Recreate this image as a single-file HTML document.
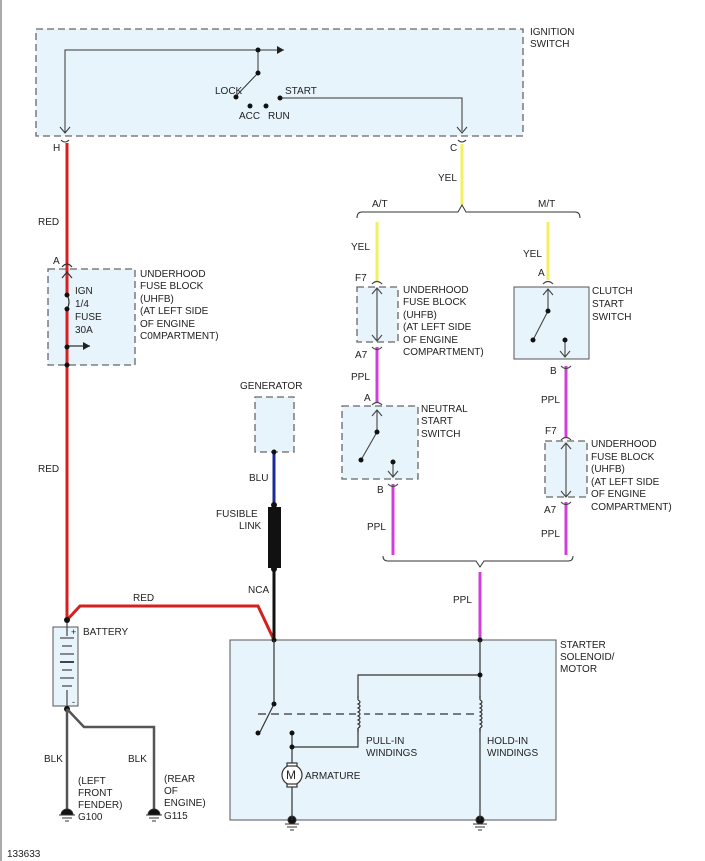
<!DOCTYPE html>
<html><head><meta charset="utf-8"><style>
html,body{margin:0;padding:0;background:#fff;}
svg{display:block;}
text{font-family:"Liberation Sans",Arial,sans-serif;font-size:10px;fill:#222;}
</style></head><body>
<svg width="705" height="861" viewBox="0 0 705 861" xmlns="http://www.w3.org/2000/svg">
<defs>
<marker id="ar" markerWidth="8" markerHeight="8" refX="7" refY="4" orient="auto" markerUnits="userSpaceOnUse"><path d="M0,0 L7,4 L0,8 z" fill="#222"/></marker>
</defs>
<line x1="1" y1="0" x2="1" y2="861" stroke="#aaa" stroke-width="2"/>
<g fill="#e8f4fc" stroke="#666" stroke-width="1.3" stroke-dasharray="7,4">
<rect x="36" y="29" width="487" height="107"/>
<rect x="48" y="269" width="87" height="96"/>
<rect x="357" y="287" width="41" height="55"/>
<rect x="342" y="406" width="76" height="73"/>
<rect x="545" y="441" width="42" height="56"/>
<rect x="255" y="397" width="39" height="55"/>
</g>
<rect x="514" y="287" width="75" height="72" fill="#e8f4fc" stroke="#555" stroke-width="1"/>
<rect x="230" y="640" width="326" height="180" fill="#e8f4fc" stroke="#555" stroke-width="1"/>
<rect x="53" y="627" width="25" height="79" fill="#e8f4fc" stroke="#555" stroke-width="1"/>

<g fill="none" stroke-width="3">
<path d="M67,143 V618" stroke="#d42020"/>
<path d="M67,620 L80,606 H258 L274,640" stroke="#d42020"/>
<path d="M462,144 V205" stroke="#f0f060"/>
<path d="M377,222 V282" stroke="#f0f060"/>
<path d="M548,222 V280" stroke="#f0f060"/>
<path d="M377,347 V402 M393,484 V555 M566,366 V438 M566,502 V555 M480,572 V640" stroke="#d040d8"/>
<path d="M274,452 V505" stroke="#1a2a9a"/>
<path d="M274,568 V640" stroke="#111"/>
</g>
<rect x="268" y="507" width="13" height="61" fill="#111"/>
<g fill="#111"><circle cx="274" cy="452" r="2.5"/><circle cx="274" cy="505" r="3"/><circle cx="274" cy="569" r="3"/><circle cx="274" cy="640" r="2.5"/><circle cx="480" cy="640" r="2.5"/></g>

<g stroke="#333" stroke-width="1" fill="none">
<path d="M65,132 V50 H284" marker-end="url(#ar)"/>
<path d="M258,50 V73 L236,96"/>
<path d="M280,98 H462 V131"/>
<path d="M60,127 L65,133 L70,127 M457,127 L462,133 L467,127"/>
<path d="M61,140 Q65,144 69,140 M458,140 Q462,144 466,140"/>
<path d="M357,218 Q357,212 362,212 H458 L462,205 L466,212 H575 Q580,212 580,218"/>
<path d="M383,556 Q383,561 388,561 H476 L480,567 L484,561 H568 Q573,561 573,556"/>
</g>
<g fill="#111"><circle cx="258" cy="50" r="2.5"/><circle cx="258" cy="73" r="2.5"/><circle cx="236" cy="97" r="2.5"/><circle cx="250" cy="106" r="2.5"/><circle cx="266" cy="106" r="2.5"/><circle cx="280" cy="98" r="2.5"/></g>

<g stroke="#333" stroke-width="1.2" fill="none">
<path d="M62,267 Q67,261 72,267"/>
<path d="M62,278 L67,272 L72,278"/>
<path d="M67,346 H90" marker-end="url(#ar)"/>
</g>
<rect x="63" y="295" width="8" height="14" fill="#e8f4fc"/>
<path d="M67,295 Q71,302 67,309" stroke="#333" fill="none" stroke-width="1.2"/>
<g fill="#111"><circle cx="67" cy="295" r="2.5"/><circle cx="67" cy="309" r="2.5"/><circle cx="67" cy="347" r="2.5"/><circle cx="67" cy="365" r="2.5"/></g>

<g stroke="#444" stroke-width="1.1" fill="none">
<path d="M372,284 Q377,279 382,284 M372,347 Q377,352 382,347"/>
<path d="M377,288 V341 M372,294 L377,288 L382,294 M372,335 L377,341 L382,335"/>
<path d="M372,405 Q377,400 382,405 M388,484 Q393,489 398,484"/>
<path d="M377,410 V432 L361,460 M372,416 L377,410 L382,416"/>
<path d="M393,462 V477 M388,471 L393,477 L398,471"/>
<path d="M543,284 Q548,279 553,284 M561,366 Q566,371 571,366"/>
<path d="M548,289 V311 L533,340 M543,295 L548,289 L553,295"/>
<path d="M565,340 V357 M560,351 L565,357 L570,351"/>
<path d="M561,440 Q566,435 571,440 M561,502 Q566,507 571,502"/>
<path d="M566,443 V497 M561,449 L566,443 L571,449 M561,491 L566,497 L571,491"/>
</g>
<g fill="#111"><circle cx="377" cy="432" r="2.5"/><circle cx="361" cy="460" r="2.5"/><circle cx="393" cy="462" r="2.5"/><circle cx="548" cy="311" r="2.5"/><circle cx="533" cy="340" r="2.5"/><circle cx="565" cy="340" r="2.5"/></g>

<g stroke="#444" stroke-width="1.2">
<line x1="67" y1="620" x2="67" y2="636"/><line x1="67" y1="690" x2="67" y2="709"/>
<line x1="60" y1="638" x2="74" y2="638"/><line x1="62" y1="646" x2="72" y2="646"/>
<line x1="60" y1="654" x2="74" y2="654"/><line x1="60" y1="662" x2="74" y2="662" stroke-width="2"/>
<line x1="62" y1="670" x2="72" y2="670"/><line x1="60" y1="678" x2="74" y2="678"/>
<line x1="62" y1="686" x2="72" y2="686"/>
</g>
<g fill="#111"><circle cx="67" cy="620" r="3"/><circle cx="67" cy="709" r="3"/></g>
<g stroke="#555" stroke-width="2.5" fill="none">
<path d="M67,709 V812"/><path d="M67,709 L84,727 H154 V812"/>
</g>
<g fill="#111" stroke="#333" stroke-width="1">
<path d="M61,815 A6,6 0 0 1 73,815 Z"/><line x1="59" y1="815" x2="75" y2="815"/><line x1="62" y1="818" x2="72" y2="818"/><line x1="65" y1="821" x2="69" y2="821"/>
<path d="M148,815 A6,6 0 0 1 160,815 Z"/><line x1="146" y1="815" x2="162" y2="815"/><line x1="149" y1="818" x2="159" y2="818"/><line x1="152" y1="821" x2="156" y2="821"/>
<circle cx="292" cy="820" r="4"/><line x1="285" y1="824" x2="299" y2="824"/><line x1="287" y1="827" x2="297" y2="827"/><line x1="290" y1="830" x2="294" y2="830"/>
<circle cx="480" cy="820" r="4"/><line x1="473" y1="824" x2="487" y2="824"/><line x1="475" y1="827" x2="485" y2="827"/><line x1="478" y1="830" x2="482" y2="830"/>
</g>

<g stroke="#333" stroke-width="1.2" fill="none">
<path d="M274,640 V704"/>
<path d="M273,706 L260,732"/>
<path d="M258,714 H480" stroke-dasharray="8,5"/>
<path d="M292,733 V765 M292,786 V820"/>
<path d="M292,747 H358 V675 H480"/>
<path d="M480,640 V820"/>
<circle cx="292" cy="775" r="10" fill="#fff"/>
<rect x="287" y="763" width="10" height="3" fill="#fff"/><rect x="287" y="784" width="10" height="3" fill="#fff"/>
</g>
<rect x="356" y="698" width="8" height="30" fill="#e8f4fc"/><rect x="478" y="698" width="8" height="30" fill="#e8f4fc"/>
<g stroke="#333" stroke-width="1.2" fill="none">
<path d="M358,700 q4,2 0,4 q4,2 0,4 q4,2 0,4 q4,2 0,4 q4,2 0,4 q4,2 0,4 q4,2 0,4"/>
<path d="M480,700 q4,2 0,4 q4,2 0,4 q4,2 0,4 q4,2 0,4 q4,2 0,4 q4,2 0,4 q4,2 0,4"/>
<line x1="358" y1="696" x2="358" y2="700"/><line x1="358" y1="728" x2="358" y2="732"/>
<line x1="480" y1="696" x2="480" y2="700"/><line x1="480" y1="728" x2="480" y2="732"/>
</g>
<g fill="#111"><circle cx="274" cy="704" r="2.5"/><circle cx="258" cy="733" r="2.5"/><circle cx="292" cy="733" r="2.5"/><circle cx="292" cy="747" r="2.5"/><circle cx="480" cy="675" r="2.5"/></g>
<text x="286" y="779" style="font-size:12px">M</text>

<text x="530" y="35">IGNITION</text><text x="530" y="47">SWITCH</text>
<text x="215" y="94">LOCK</text><text x="285" y="94">START</text>
<text x="239" y="119">ACC</text><text x="268" y="119">RUN</text>
<text x="53" y="151">H</text><text x="450" y="151">C</text>
<text x="438" y="181">YEL</text>
<text x="372" y="207">A/T</text><text x="538" y="207">M/T</text>
<text x="38" y="225">RED</text><text x="38" y="472">RED</text>
<text x="351" y="250">YEL</text><text x="523" y="257">YEL</text>
<text x="53" y="264">A</text>
<text x="75" y="294">IGN</text><text x="75" y="307">1/4</text><text x="75" y="320">FUSE</text><text x="75" y="333">30A</text>
<text x="140" y="277">UNDERHOOD</text><text x="140" y="289">FUSE BLOCK</text><text x="140" y="302">(UHFB)</text><text x="140" y="314">(AT LEFT SIDE</text><text x="140" y="327">OF ENGINE</text><text x="140" y="339">C0MPARTMENT)</text>
<text x="355" y="281">F7</text><text x="355" y="358">A7</text>
<text x="403" y="293">UNDERHOOD</text><text x="403" y="305">FUSE BLOCK</text><text x="403" y="318">(UHFB)</text><text x="403" y="330">(AT LEFT SIDE</text><text x="403" y="343">OF ENGINE</text><text x="403" y="355">COMPARTMENT)</text>
<text x="592" y="294">CLUTCH</text><text x="592" y="307">START</text><text x="592" y="320">SWITCH</text>
<text x="538" y="276">A</text>
<text x="351" y="380">PPL</text><text x="364" y="401">A</text>
<text x="421" y="412">NEUTRAL</text><text x="421" y="424">START</text><text x="421" y="437">SWITCH</text>
<text x="377" y="493">B</text><text x="367" y="530">PPL</text>
<text x="550" y="374">B</text><text x="541" y="403">PPL</text>
<text x="545" y="434">F7</text><text x="544" y="513">A7</text><text x="541" y="537">PPL</text>
<text x="591" y="447">UNDERHOOD</text><text x="591" y="460">FUSE BLOCK</text><text x="591" y="472">(UHFB)</text><text x="591" y="485">(AT LEFT SIDE</text><text x="591" y="497">OF ENGINE</text><text x="591" y="510">COMPARTMENT)</text>
<text x="240" y="389">GENERATOR</text>
<text x="249" y="481">BLU</text>
<text x="216" y="517">FUSIBLE</text><text x="239" y="529">LINK</text>
<text x="248" y="593">NCA</text>
<text x="133" y="601">RED</text>
<text x="453" y="603">PPL</text>
<text x="71" y="635" style="font-size:9px">+</text><text x="72" y="705" style="font-size:9px">-</text>
<text x="83" y="635">BATTERY</text>
<text x="560" y="648">STARTER</text><text x="560" y="660">SOLENOID/</text><text x="560" y="672">MOTOR</text>
<text x="44" y="762">BLK</text><text x="128" y="762">BLK</text>
<text x="78" y="784">(LEFT</text><text x="78" y="796">FRONT</text><text x="78" y="808">FENDER)</text><text x="78" y="820">G100</text>
<text x="164" y="782">(REAR</text><text x="164" y="794">OF</text><text x="164" y="806">ENGINE)</text><text x="164" y="819">G115</text>
<text x="366" y="744">PULL-IN</text><text x="366" y="756">WINDINGS</text>
<text x="487" y="744">HOLD-IN</text><text x="487" y="756">WINDINGS</text>
<text x="305" y="779">ARMATURE</text>
<text x="7" y="857">133633</text>
</svg>
</body></html>
